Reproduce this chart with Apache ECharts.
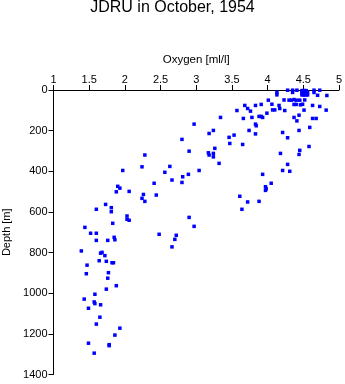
<!DOCTYPE html>
<html>
<head>
<meta charset="utf-8">
<script src="https://cdn.jsdelivr.net/npm/echarts@6/dist/echarts.min.js"></script>
<style>
html,body{margin:0;padding:0;background:#fff;}
#chart{width:345px;height:384px;}
</style>
</head>
<body>
<div id="chart"></div>
<script>
var title = "JDRU in October, 1954";
var xName = "Oxygen [ml/l]";
var yName = "Depth [m]";

var oxygen = [
4.13,4.13,4.28,4.35,4.35,4.41,
4.48,4.50,4.52,4.54,4.48,4.50,4.52,4.54,4.48,4.50,4.52,4.54,
4.56,4.56,4.65,4.65,4.73,4.70,4.83,
4.01,4.23,4.30,4.33,4.37,4.40,4.45,4.52,
3.91,3.83,3.68,4.06,4.16,4.17,4.37,4.40,4.46,4.49,4.63,4.73,
3.72,3.76,3.57,4.07,4.10,4.24,4.51,4.82,
3.99,3.88,3.91,3.93,3.78,3.66,3.34,4.37,4.44,4.63,4.68,4.41,
3.83,3.84,2.97,4.59,3.24,3.18,3.74,3.83,4.21,4.44,4.28,3.53,3.46,2.80,3.47,3.65,4.58,3.26,2.90,4.45,3.17,3.18,3.24,3.24,4.18,4.44,
3.32,4.28,2.63,3.04,4.21,4.31,2.81,2.89,2.66,2.80,3.93,4.05,3.97,3.98,3.97,3.61,3.72,3.88,3.64,
2.28,2.24,1.97,2.56,2.41,1.90,1.93,2.06,1.88,2.26,2.44,2.24,2.28,1.73,1.81,1.81,1.60,2.03,2.03,2.06,1.83,2.90,2.97,1.44,1.52,1.60,2.48,2.72,2.70,1.85,1.86,1.60,1.76,2.66,
1.39,1.66,1.68,1.72,1.64,1.74,1.82,1.84,1.47,1.46,1.77,1.76,1.88,1.74,1.58,1.43,1.57,1.58,1.66,1.49,1.65,1.60,1.93,1.86,1.49,1.78,1.78,1.57
];

var depth = [
11,24,1,1,12,1,
3,3,3,3,14,14,14,14,24,24,24,24,
12,24,1,12,1,26,27,
50,49,50,50,47,50,50,49,
71,76,76,70,76,91,71,71,73,70,76,81,
91,104,101,98,98,101,99,99,
114,130,130,135,135,140,135,135,124,140,140,152,
168,176,168,184,199,214,199,216,209,199,235,222,233,243,263,268,278,287,301,297,309,320,312,329,312,317,
361,366,376,396,396,400,427,415,443,455,415,459,476,486,494,523,551,548,587,
320,378,396,405,459,474,483,499,501,514,517,533,548,563,579,599,587,620,636,641,656,627,671,676,705,705,710,715,735,725,737,740,740,772,
792,803,799,815,840,843,850,850,862,904,899,926,963,980,1005,1029,1043,1051,1057,1074,1118,1152,1172,1206,1246,1253,1258,1295
];

var xMin = 1, xMax = 5, xStep = 0.5;
var yMin = 0, yMax = 1400, yStep = 200;

var points = oxygen.map(function(v, i){ return [v, depth[i]]; });

var chart = echarts.init(document.getElementById('chart'), null, {renderer:'canvas'});
var font = "'Liberation Sans', Arial, sans-serif";
chart.setOption({
  animation: false,
  backgroundColor: '#ffffff',
  title: {
    text: title,
    left: 'center',
    top: -5,
    textStyle: {fontFamily: font, fontSize: 16, fontWeight: 'normal', color: '#000'}
  },
  grid: {left: 53.5, right: 6, top: 90, bottom: 9.5, containLabel: false, outerBoundsMode: 'none'},
  xAxis: {
    type: 'value', position: 'top', min: xMin, max: xMax, interval: xStep,
    name: xName, nameLocation: 'middle', nameGap: 24,
    nameTextStyle: {fontFamily: font, fontSize: 11.5, color: '#000'},
    axisLine: {show: true, onZero: false, lineStyle: {color: '#000', width: 1}},
    axisTick: {show: true, length: 5, lineStyle: {color: '#000'}},
    axisLabel: {fontFamily: font, fontSize: 11, color: '#000', margin: 5,
      formatter: function(v){ return String(v); }},
    splitLine: {show: false}
  },
  yAxis: {
    type: 'value', inverse: true, min: yMin, max: yMax, interval: yStep,
    name: yName, nameLocation: 'middle', nameGap: 41,
    nameTextStyle: {fontFamily: font, fontSize: 11, color: '#000'},
    axisLine: {show: true, onZero: false, lineStyle: {color: '#000', width: 1}},
    axisTick: {show: true, length: 5, lineStyle: {color: '#000'}},
    axisLabel: {fontFamily: font, fontSize: 11, color: '#000', margin: 6,
      formatter: function(v){ return String(v); }},
    splitLine: {show: false}
  },
  series: [{
    type: 'scatter',
    data: points,
    symbol: 'rect',
    symbolSize: 3.5,
    itemStyle: {color: '#0000ff', opacity: 1},
    clip: false
  }]
});
</script>
</body>
</html>
